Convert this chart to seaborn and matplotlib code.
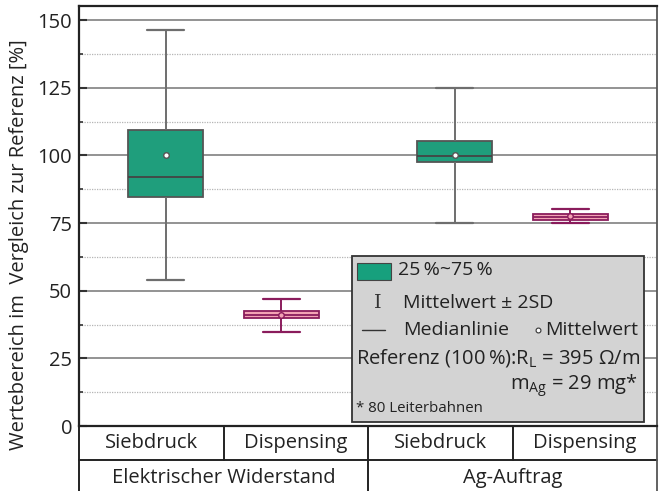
import numpy as np
import pandas as pd
import matplotlib
matplotlib.use("Agg")
import matplotlib.pyplot as plt
import seaborn as sns
from matplotlib.patches import Rectangle
from matplotlib.ticker import MultipleLocator

# ---------------- data ----------------
group_labels = ["Elektrischer Widerstand", "Ag-Auftrag"]
method_labels = ["Siebdruck", "Dispensing", "Siebdruck", "Dispensing"]
box_methods = ["Siebdruck", "Dispensing", "Siebdruck", "Dispensing"]
box_positions = [0.6, 1.4, 2.6, 3.4]
whisker_low = [53.9, 34.8, 75.1, 74.9]    # Mittelwert - 2SD
q1 = [84.5, 39.9, 97.7, 76.3]
median = [92.0, 41.1, 99.7, 77.4]
q3 = [109.3, 42.4, 105.2, 78.3]
whisker_high = [146.4, 46.9, 124.9, 80.3]  # Mittelwert + 2SD
mean = [100.1, 40.9, 100.1, 77.6]
y_ticks = [0, 25, 50, 75, 100, 125, 150]

# ---------------- style ----------------
sns.set_style("ticks")
plt.rcParams["font.family"] = ["Open Sans", "DejaVu Sans"]
plt.rcParams["mathtext.fontset"] = "custom"
plt.rcParams["mathtext.rm"] = "Open Sans"
plt.rcParams["mathtext.it"] = "Open Sans"

FS = 14.5
FSL = 14
green_fill = "#1f9e7c"
green_edge = "#555555"
pink_fill = "#f3a3b4"
pink_edge = "#8a1c5c"

rows = []
for m, p, a, b, c, d, e in zip(box_methods, box_positions, whisker_low, q1, median, q3, whisker_high):
    for v in (a, b, c, d, e):
        rows.append({"method": m, "pos": p, "value": v})
df = pd.DataFrame(rows)
means_df = pd.DataFrame({"method": box_methods, "pos": box_positions, "mean": mean})

fig = plt.figure(figsize=(6.59, 4.91), dpi=100)
ax = fig.add_axes([79 / 659, 65 / 491, 578 / 659, 420 / 491])

styles = {
    "Siebdruck": dict(fill=green_fill, edge=green_edge, whisk="#6e6e6e", med="#444444"),
    "Dispensing": dict(fill=pink_fill, edge=pink_edge, whisk=pink_edge, med=pink_edge),
}
for m, st in styles.items():
    sub = df[df["method"] == m]
    sns.boxplot(
        data=sub, x="pos", y="value", native_scale=True, whis=(0, 100),
        width=0.2575, color=st["fill"], linecolor=st["edge"], linewidth=1.3,
        saturation=1, showfliers=False, ax=ax,
        boxprops={"facecolor": st["fill"], "edgecolor": st["edge"], "zorder": 3},
        whiskerprops={"color": st["whisk"], "linewidth": 1.4, "zorder": 3},
        capprops={"color": st["whisk"], "linewidth": 1.6, "zorder": 3},
        medianprops={"color": st["med"], "linewidth": 1.3, "zorder": 4},
    )
    msub = means_df[means_df["method"] == m]
    sns.scatterplot(
        data=msub, x="pos", y="mean", marker="o", s=16,
        color="white" if m == "Siebdruck" else pink_fill,
        edgecolor=st["edge"], linewidth=1.0, zorder=6, ax=ax, legend=False,
    )

ax.set_xlim(0, 4)
ax.set_ylim(0, 155.2)
ax.set_xticks([])
ax.set_yticks(y_ticks)
ax.yaxis.set_minor_locator(MultipleLocator(12.5))
ax.tick_params(axis="y", which="major", direction="in", length=6, width=1.5,
               color="#333333", labelsize=FS, pad=5, labelcolor="#222222")
ax.tick_params(axis="y", which="minor", direction="in", length=3, width=1.2, color="#333333")
ax.grid(axis="y", which="major", color="#8a8a8a", linewidth=1.3, linestyle="-")
ax.grid(axis="y", which="minor", color="#b5b5b5", linewidth=0.9, linestyle=(0, (1, 1)))
ax.set_axisbelow(True)
ax.set_xlabel("")
ax.set_ylabel("Wertebereich im  Vergleich zur Referenz [%]", fontsize=FS, color="#222222")
ax.yaxis.set_label_coords(-0.086, 0.431)

for s in ["top", "left", "bottom"]:
    ax.spines[s].set_color("#222222")
    ax.spines[s].set_linewidth(1.6)
ax.spines["right"].set_color("#555555")
ax.spines["right"].set_linewidth(1.3)

# ---- table below axes ----
tr = ax.get_xaxis_transform()
y_row = -0.081
y_bot = -0.24
lk = dict(transform=tr, clip_on=False, color="#222222", linewidth=1.4)
ax.plot([0, 4], [y_row, y_row], **lk)
for xv in [1, 3]:
    ax.plot([xv, xv], [0, y_row], **lk)
ax.plot([2, 2], [0, y_bot], **lk)
ax.plot([0, 0], [0, y_bot], **lk)
ax.plot([4, 4], [0, y_bot], color="#555555", linewidth=1.3, transform=tr, clip_on=False)
for i, lab in enumerate(method_labels):
    ax.text(i + 0.5, -0.0405, lab, transform=tr, ha="center", va="center",
            fontsize=FS, color="#222222")
for i, lab in enumerate(group_labels):
    ax.text(1 + 2 * i, -0.124, lab, transform=tr, ha="center", va="center",
            fontsize=FS, color="#222222")

# ---- legend box ----
ta = ax.transAxes
ax.add_patch(Rectangle((0.4723, 0.0095), 0.5052, 0.3953, transform=ta,
                       facecolor="#d3d3d3", edgecolor="#333333", linewidth=1.3, zorder=8))
ax.add_patch(Rectangle((0.481, 0.3476), 0.059, 0.0405, transform=ta,
                       facecolor="#17a07d", edgecolor="#444444", linewidth=0.8, zorder=9))
tk = dict(transform=ta, fontsize=FSL, color="#222222", va="center", zorder=10)
ax.text(0.552, 0.371, "25\u2009%~75\u2009%", ha="left", **tk)
ax.text(0.517, 0.293, "I", ha="center", transform=ta, fontsize=FSL, color="#333333",
        va="center", zorder=10, family=["DejaVu Serif"], fontweight="light")
ax.text(0.5606, 0.293, "Mittelwert ± 2SD", ha="left", **tk)
ax.plot([0.4896, 0.5294], [0.2286, 0.2286], transform=ta, color="#333333",
        linewidth=1.0, zorder=10)
ax.text(0.5606, 0.2286, "Medianlinie", ha="left", **tk)
ax.plot([0.7935], [0.2286], transform=ta, marker="o", markersize=3.5,
        markerfacecolor="white", markeredgecolor="#333333", markeredgewidth=0.8, zorder=10)
ax.text(0.9671, 0.2286, "Mittelwert", ha="right", **tk)
tk2 = dict(tk, fontsize=FS)
ax.text(0.4792, 0.162, "Referenz (100\u2009%):R$_\\mathrm{L}$ = 395 Ω/m", ha="left", **tk2)
ax.text(0.9671, 0.0952, "m$_\\mathrm{Ag}$ = 29 mg*", ha="right", **tk2)
ax.text(0.4792, 0.0405, "* 80 Leiterbahnen", ha="left", transform=ta, fontsize=10.8,
        color="#222222", va="center", zorder=10)

fig.savefig("out.png", dpi=100)
